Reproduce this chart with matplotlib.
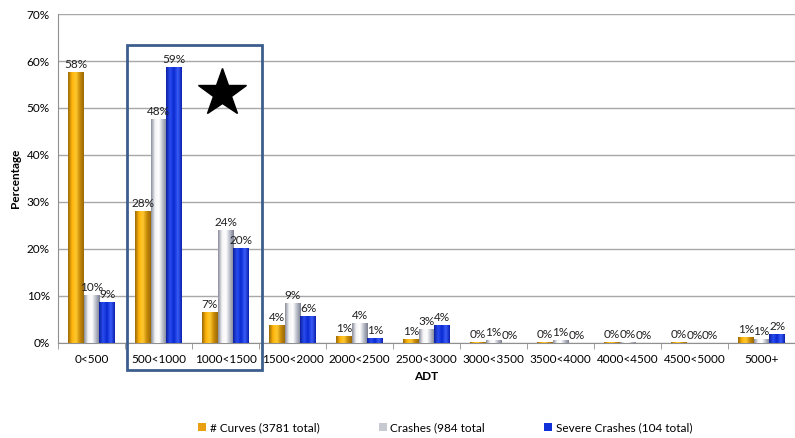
import matplotlib
matplotlib.use("Agg")
import matplotlib.pyplot as plt
import numpy as np
from matplotlib.patches import Rectangle
from matplotlib.colors import LinearSegmentedColormap

categories = ["0<500", "500<1000", "1000<1500", "1500<2000", "2000<2500", "2500<3000",
              "3000<3500", "3500<4000", "4000<4500", "4500<5000", "5000+"]
curves = [57.7, 28.1, 6.6, 3.9, 1.4, 0.9, 0.2, 0.3, 0.2, 0.2, 1.2]
crashes = [10.3, 47.6, 24.0, 8.6, 4.2, 3.0, 0.6, 0.6, 0.3, 0.0, 0.8]
severe = [8.8, 58.8, 20.2, 5.8, 1.1, 3.8, 0.0, 0.0, 0.0, 0.0, 1.9]
series_names = ["# Curves (3781 total)", "Crashes (984 total", "Severe Crashes (104 total)"]
yticks = [0, 10, 20, 30, 40, 50, 60, 70]

plt.rcParams['font.family'] = ['Lato', 'DejaVu Sans']

fig = plt.figure(figsize=(7.95, 4.38), dpi=100)
ax = fig.add_axes([0.073, 0.217, 0.927, 0.751])

x = np.arange(len(categories))
w = 0.235
base_colors = ["#E8A010", "#C8CAD2", "#1030D8"]
cmaps = [
    LinearSegmentedColormap.from_list("o", ["#9A6A08", "#FFB50A", "#FFC830", "#C88A08", "#9A6A08"]),
    LinearSegmentedColormap.from_list("g", ["#8A8E9C", "#F4F4F6", "#FFFFFF", "#B8BCC8", "#7C8090"]),
    LinearSegmentedColormap.from_list("b", ["#0A20A0", "#2A4CF0", "#0A2AD0", "#3A5CF8", "#0A20B0"]),
]
grad = np.linspace(0, 1, 64).reshape(1, -1)

for i, (vals, col, cm, name) in enumerate(zip([curves, crashes, severe], base_colors, cmaps, series_names)):
    pos = x + (i - 1) * w
    bars = ax.bar(pos, vals, width=w, color=col, edgecolor="none", label=name, zorder=3)
    for b, v in zip(bars, vals):
        if v > 0:
            im = ax.imshow(grad, cmap=cm, aspect='auto', zorder=3.5,
                           extent=[b.get_x(), b.get_x() + b.get_width(), 0, v])
            im.set_clip_path(b)
        ax.text(b.get_x() + b.get_width() / 2, v + 0.4, f"{round(v)}%", ha='center', va='bottom',
                fontsize=8.5, color="#202020", zorder=5)

ax.set_xlim(-0.5, len(categories) - 0.5)
ax.set_ylim(0, 70)
ax.set_yticks(yticks)
ax.set_yticklabels([f"{t}%" for t in yticks], fontsize=8.5)
ax.set_xticks(x)
ax.set_xticklabels(categories, fontsize=8.5)
ax.set_xticks(np.arange(-0.5, len(categories), 1), minor=True)
ax.tick_params(axis='x', which='major', length=0, pad=8)
ax.tick_params(axis='x', which='minor', length=4, color="#909090")
ax.tick_params(axis='y', length=0, pad=6)
ax.yaxis.grid(True, color="#A8A8A8", lw=1)
ax.set_axisbelow(True)
for s in ["top", "right"]:
    ax.spines[s].set_visible(False)
ax.spines["left"].set_color("#909090")
ax.spines["bottom"].set_color("#909090")

ax.set_ylabel("Percentage", fontsize=8.5, fontweight='bold', labelpad=4)
ax.set_xlabel("ADT", fontsize=8.5, fontweight='bold', labelpad=4)

# Highlight box and star
ax.add_patch(Rectangle((0.53, -5.7), 2.01, 69.1, fill=False, edgecolor="#3C5E8C", lw=2,
                       clip_on=False, zorder=6))
ax.plot([1.95], [53.2], marker='*', markersize=36, color='black', zorder=6)

handles, labels = ax.get_legend_handles_labels()
fig.legend(handles, labels, loc='center', bbox_to_anchor=(0.56, 0.023), ncol=3, frameon=False,
           fontsize=8.5, handlelength=0.7, handleheight=0.7, columnspacing=5.0, handletextpad=0.3)

fig.savefig("out.png", dpi=100)
